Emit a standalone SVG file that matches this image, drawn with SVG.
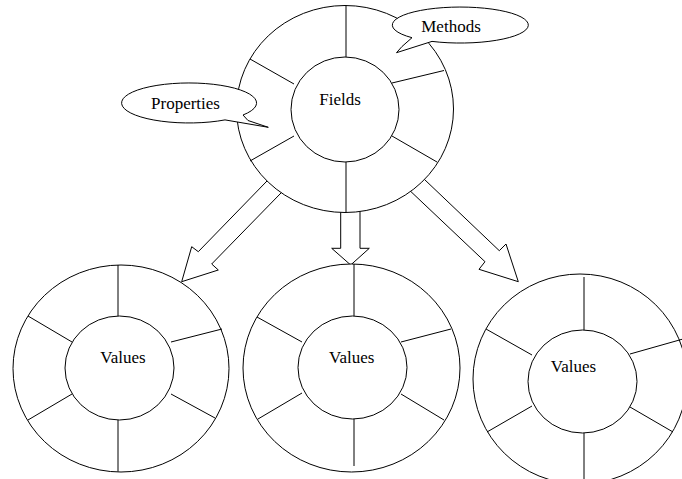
<svg xmlns="http://www.w3.org/2000/svg" width="682" height="479" viewBox="0 0 682 479">
<style>
.s{fill:#fff;stroke:#000;stroke-width:1}
.l{fill:none;stroke:#000;stroke-width:1}
.t{font-family:"Liberation Serif","Times New Roman",serif;font-size:17px;fill:#000;text-anchor:middle}
</style>
<rect width="682" height="479" fill="#fff"/>
<g id="connectors">
<polygon class="s" points="286,161.4 300,173.4 280,194 211.7,264 218.3,270 181.7,281.7 191.7,246.7 198.3,251.7 266,182"/>
<polygon class="s" points="340.7,190 360,190 360,248.3 369.3,248.3 350.7,265 331.7,248.3 340.7,248.3"/>
<polygon class="s" points="404.3,160.3 424.3,179.3 499.3,250.7 506,244 518.3,281.7 479,269.3 485,261.7 411,191.7 391,172.7"/>
</g>
<g id="fields">
<ellipse class="s" cx="345" cy="109" rx="108.5" ry="103.5"/>
<line class="l" x1="346" y1="5.5" x2="346" y2="57"/>
<line class="l" x1="346" y1="162" x2="346" y2="212.5"/>
<line class="l" x1="250" y1="59" x2="294" y2="84"/>
<line class="l" x1="294" y1="136" x2="250" y2="161"/>
<line class="l" x1="392" y1="83" x2="444" y2="70.5"/>
<line class="l" x1="392" y1="136" x2="437" y2="162"/>
<ellipse class="s" cx="345" cy="109.5" rx="54" ry="52.5"/>
<text class="t" x="340" y="105">Fields</text>
</g>
<g id="methods">
<path class="s" d="M432,41.4 A68,18 0 1,0 412,37.7 L402,46.5 L396.5,52.7 Z"/>
<text class="t" x="451" y="31.7">Methods</text>
</g>
<g id="properties">
<path class="s" d="M225,119.9 A67.5,20 0 1,1 243,115 L248,120.5 L268.3,127.3 Z"/>
<text class="t" x="185.5" y="109">Properties</text>
</g>
<g id="values1">
<ellipse class="s" cx="121" cy="368.5" rx="108" ry="103.5"/>
<line class="l" x1="118" y1="265" x2="118" y2="316"/>
<line class="l" x1="118" y1="420" x2="118" y2="471.5"/>
<line class="l" x1="28" y1="316" x2="72" y2="342"/>
<line class="l" x1="72" y1="394" x2="28" y2="420"/>
<line class="l" x1="171" y1="342" x2="222" y2="329"/>
<line class="l" x1="171" y1="394" x2="215" y2="418"/>
<ellipse class="s" cx="119.5" cy="368" rx="54.5" ry="52"/>
<text class="t" x="123" y="363">Values</text>
</g>
<g id="values2">
<ellipse class="s" cx="351.5" cy="368" rx="108.5" ry="104"/>
<line class="l" x1="354" y1="264" x2="354" y2="316"/>
<line class="l" x1="354" y1="419" x2="354" y2="466"/>
<line class="l" x1="257" y1="317" x2="302" y2="342"/>
<line class="l" x1="302" y1="393" x2="258" y2="419"/>
<line class="l" x1="401" y1="342" x2="451" y2="329"/>
<line class="l" x1="401" y1="394" x2="444" y2="420"/>
<ellipse class="s" cx="352.5" cy="367.5" rx="54.5" ry="51.5"/>
<text class="t" x="351.7" y="363">Values</text>
</g>
<g id="values3">
<ellipse class="s" cx="580" cy="379" rx="107" ry="105"/>
<line class="l" x1="584" y1="277" x2="584" y2="330"/>
<line class="l" x1="584" y1="433" x2="584" y2="479"/>
<line class="l" x1="486" y1="329" x2="532" y2="355"/>
<line class="l" x1="532" y1="406" x2="487" y2="432"/>
<line class="l" x1="630" y1="354" x2="683" y2="339"/>
<line class="l" x1="630" y1="407" x2="673" y2="432"/>
<ellipse class="s" cx="582.5" cy="381.5" rx="54.5" ry="51.5"/>
<text class="t" x="573.5" y="371.7">Values</text>
</g>
</svg>
